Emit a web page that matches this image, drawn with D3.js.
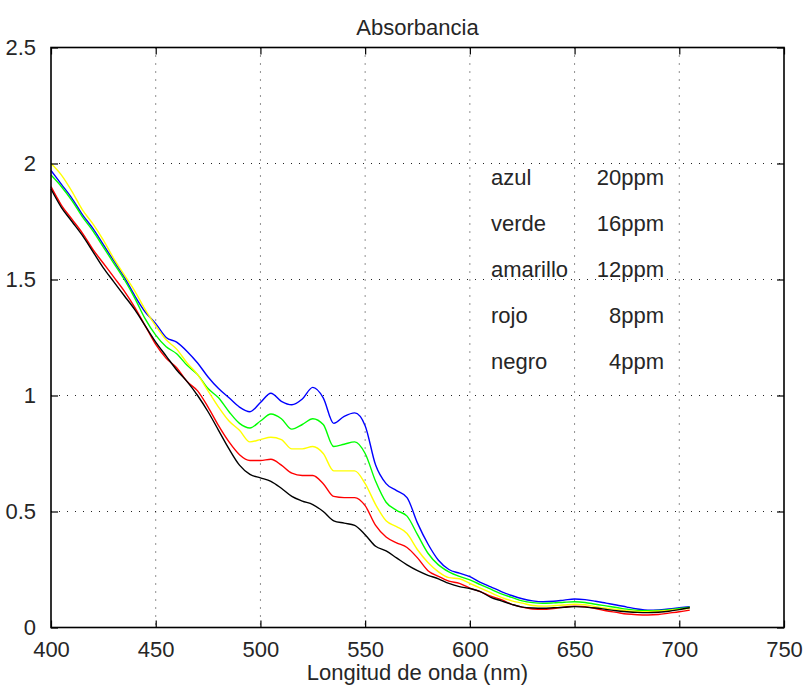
<!DOCTYPE html>
<meta charset="utf-8">
<style>
    body { margin: 0; background: #fff; }
    svg { font-family: "Liberation Sans", Arial, sans-serif; }
    .grid line { stroke: #222; stroke-width: 1; stroke-dasharray: 1,7; }
    .lbl { font-size: 22px; fill: #262626; }
</style>
<body>
<script src="https://d3js.org/d3.v7.min.js"></script>
<script>

    var width = 808,
        height = 689;

    // wavelength (nm), every 5 nm
    var wavelength = d3.range(400, 706, 5);

    var azul = [1.97,1.91,1.85,1.78,1.72,1.65,1.58,1.51,1.43,1.36,1.31,1.25,1.23,1.19,1.14,1.08,1.03,0.99,0.95,0.93,
        0.97,1.01,0.975,0.96,0.985,1.035,0.99,0.88,0.91,0.925,0.87,0.70,0.62,0.59,0.56,0.45,0.36,0.29,0.25,0.234,
        0.219,0.195,0.175,0.155,0.138,0.124,0.115,0.111,0.113,0.118,0.123,0.12,0.113,0.105,0.097,0.088,0.08,0.075,0.076,0.08,
        0.085,0.09];
    var verde = [1.95,1.90,1.84,1.77,1.71,1.64,1.57,1.50,1.42,1.33,1.26,1.21,1.18,1.13,1.09,1.03,0.99,0.93,0.88,0.86,
        0.89,0.92,0.90,0.855,0.875,0.90,0.875,0.78,0.79,0.80,0.75,0.63,0.54,0.505,0.48,0.40,0.32,0.27,0.24,0.22,
        0.205,0.185,0.165,0.145,0.13,0.115,0.107,0.104,0.106,0.109,0.111,0.108,0.10,0.093,0.086,0.079,0.074,0.072,0.073,0.077,
        0.082,0.087];
    var amarillo = [2.00,1.95,1.88,1.80,1.74,1.67,1.59,1.52,1.45,1.37,1.30,1.24,1.20,1.14,1.09,1.02,0.95,0.89,0.85,0.80,
        0.81,0.82,0.81,0.77,0.77,0.78,0.75,0.675,0.675,0.675,0.62,0.53,0.46,0.435,0.405,0.335,0.28,0.24,0.215,0.21,
        0.19,0.17,0.15,0.13,0.115,0.105,0.095,0.092,0.094,0.097,0.10,0.098,0.09,0.083,0.078,0.072,0.069,0.068,0.07,0.074,
        0.078,0.083];
    var rojo = [1.90,1.82,1.76,1.70,1.63,1.57,1.51,1.45,1.38,1.30,1.22,1.16,1.12,1.06,1.02,0.95,0.87,0.80,0.745,0.72,
        0.72,0.725,0.70,0.665,0.655,0.655,0.62,0.565,0.56,0.56,0.525,0.44,0.39,0.365,0.345,0.30,0.245,0.22,0.20,0.19,
        0.17,0.155,0.135,0.12,0.10,0.088,0.08,0.078,0.082,0.088,0.092,0.09,0.082,0.072,0.065,0.058,0.055,0.054,0.056,0.062,
        0.068,0.075];
    var negro = [1.89,1.81,1.75,1.69,1.62,1.55,1.49,1.43,1.37,1.30,1.23,1.17,1.11,1.06,1.00,0.93,0.85,0.77,0.70,0.66,
        0.645,0.63,0.60,0.565,0.545,0.53,0.50,0.46,0.45,0.44,0.40,0.35,0.33,0.30,0.27,0.245,0.225,0.21,0.19,0.176,
        0.168,0.155,0.13,0.115,0.10,0.088,0.084,0.083,0.085,0.087,0.09,0.088,0.084,0.078,0.072,0.068,0.065,0.064,0.066,0.07,
        0.077,0.085];

    var series = [
        {name: "azul", color: "#0000ff", values: azul},
        {name: "verde", color: "#00ff00", values: verde},
        {name: "amarillo", color: "#ffff00", values: amarillo},
        {name: "rojo", color: "#ff0000", values: rojo},
        {name: "negro", color: "#000000", values: negro}
    ];

    var legendNames = ["azul", "verde", "amarillo", "rojo", "negro"];
    var legendConc = ["20ppm", "16ppm", "12ppm", "8ppm", "4ppm"];

    var xTicks = [400, 450, 500, 550, 600, 650, 700, 750];
    var yTicks = [0, 0.5, 1, 1.5, 2, 2.5];

    var margin = {left: 51, right: 24, top: 47.5, bottom: 61.5};

    var x = d3.scaleLinear().domain([400, 750]).range([margin.left, width - margin.right]);
    var y = d3.scaleLinear().domain([0, 2.5]).range([height - margin.bottom, margin.top]);

    var svg = d3.select("body").append("svg")
        .attr("width", width)
        .attr("height", height);

    // dotted grid
    var grid = svg.append("g").attr("class", "grid");
    grid.selectAll("line.gx")
        .data(xTicks.slice(1, -1))
        .enter().append("line")
        .attr("x1", d => x(d)).attr("x2", d => x(d))
        .attr("y1", y(2.5)).attr("y2", y(0));
    grid.selectAll("line.gy")
        .data(yTicks.slice(1, -1))
        .enter().append("line")
        .attr("class", "gy")
        .attr("x1", x(400)).attr("x2", x(750))
        .attr("y1", d => y(d)).attr("y2", d => y(d));

    // curves
    var line = d3.line()
        .curve(d3.curveMonotoneX)
        .x((d, i) => x(wavelength[i]))
        .y(d => y(d));

    svg.append("g")
        .selectAll("path")
        .data(series)
        .enter().append("path")
        .attr("d", d => line(d.values))
        .style("fill", "none")
        .style("stroke", d => d.color)
        .style("stroke-width", 1.4);

    // axes, ticks inside on all four sides
    var tl = 7;
    svg.append("g")
        .attr("transform", "translate(0," + y(0) + ")")
        .call(d3.axisBottom(x).tickValues(xTicks).tickSize(-tl).tickPadding(14).tickFormat(d3.format("d")))
        .call(g => g.select(".domain").remove());
    svg.append("g")
        .attr("transform", "translate(0," + y(2.5) + ")")
        .call(d3.axisTop(x).tickValues(xTicks).tickSize(-tl).tickFormat(""))
        .call(g => g.select(".domain").remove());
    svg.append("g")
        .attr("transform", "translate(" + x(400) + ",0)")
        .call(d3.axisLeft(y).tickValues(yTicks).tickSize(-tl).tickPadding(15).tickFormat(d3.format("")))
        .call(g => g.select(".domain").remove());
    svg.append("g")
        .attr("transform", "translate(" + x(750) + ",0)")
        .call(d3.axisRight(y).tickValues(yTicks).tickSize(-tl).tickFormat(""))
        .call(g => g.select(".domain").remove());

    svg.selectAll(".tick line").style("stroke", "#000").style("stroke-width", 1.2);
    svg.selectAll(".tick text")
        .style("font-size", "22px")
        .style("fill", "#262626")
        .style("font-family", "'Liberation Sans', Arial, sans-serif");

    svg.append("rect")
        .attr("x", x(400)).attr("y", y(2.5))
        .attr("width", x(750) - x(400)).attr("height", y(0) - y(2.5))
        .style("fill", "none")
        .style("stroke", "#000")
        .style("stroke-width", 1.6);

    // titles
    svg.append("text")
        .attr("class", "lbl")
        .attr("x", (x(400) + x(750)) / 2)
        .attr("y", 35)
        .attr("text-anchor", "middle")
        .text("Absorbancia");
    svg.append("text")
        .attr("class", "lbl")
        .attr("x", (x(400) + x(750)) / 2)
        .attr("y", 680)
        .attr("text-anchor", "middle")
        .text("Longitud de onda (nm)");

    // text legend
    var leg = svg.append("g");
    leg.selectAll("text.n")
        .data(legendNames)
        .enter().append("text")
        .attr("class", "lbl")
        .attr("x", 491)
        .attr("y", (d, i) => 185 + i * 46)
        .text(d => d);
    leg.selectAll("text.c")
        .data(legendConc)
        .enter().append("text")
        .attr("class", "lbl")
        .attr("x", 664)
        .attr("y", (d, i) => 185 + i * 46)
        .attr("text-anchor", "end")
        .text(d => d);

</script>
